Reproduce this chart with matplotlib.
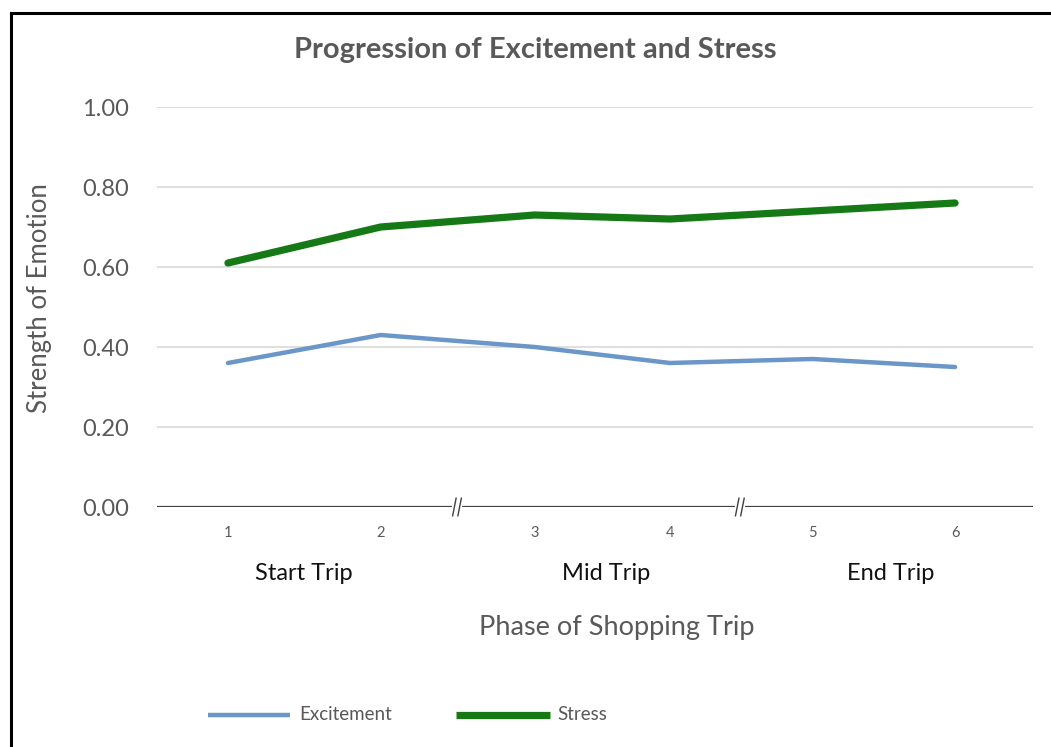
import matplotlib
matplotlib.use("Agg")
import matplotlib.pyplot as plt
from matplotlib.lines import Line2D

plt.rcParams['font.family'] = ['Lato', 'DejaVu Sans']

# Data
phases = ["1", "2", "3", "4", "5", "6"]
excitement = [0.36, 0.43, 0.40, 0.36, 0.37, 0.35]
stress = [0.61, 0.70, 0.73, 0.72, 0.74, 0.76]
stage_labels = ["Start Trip", "Mid Trip", "End Trip"]
y_ticks = [0.0, 0.2, 0.4, 0.6, 0.8, 1.0]
series_names = ["Excitement", "Stress"]

# Layout: horizontal placement of each phase (broken axis between stages)
phase_x = [1.0, 2.05, 3.11, 4.04, 5.02, 6.0]
break_x = [2.575, 4.52]
stage_x = [1.52, 3.60, 5.56]

W, H = 1051, 747
fig = plt.figure(figsize=(W / 100, H / 100), dpi=100)
fig.patch.set_facecolor("white")

ax = fig.add_axes([157 / W, (H - 507) / H, 876 / W, 400 / H])
ax.set_xlim(0.512, 6.536)
ax.set_ylim(0, 1.0)

grey = "#595959"
exc_color, str_color = "#6a96c8", "#157a15"
exc_lw, str_lw = 3.2, 5.2

for yv in y_ticks[1:]:
    ax.axhline(yv, color="#d9d9d9", lw=1.2, zorder=1)
ax.axhline(0, color="#404040", lw=1.6, zorder=2)

for s in ax.spines.values():
    s.set_visible(False)

ax.plot(phase_x, excitement, color=exc_color, lw=exc_lw, solid_capstyle="round",
        solid_joinstyle="round", zorder=3)
ax.plot(phase_x, stress, color=str_color, lw=str_lw, solid_capstyle="round",
        solid_joinstyle="round", zorder=4)

# axis break marks
for bx in break_x:
    ax.plot([bx - 0.02, bx + 0.02], [0, 0], color="white", lw=3, zorder=5,
            clip_on=False)
    for dx in (-0.018, 0.018):
        ax.plot([bx + dx - 0.012, bx + dx + 0.012], [-0.022, 0.022],
                color="#404040", lw=1.0, zorder=6, clip_on=False)

ax.set_yticks(y_ticks)
ax.set_yticklabels([f"{v:.2f}" for v in y_ticks], fontsize=17, color=grey)
ax.tick_params(axis="y", length=0, pad=20)
ax.set_xticks(phase_x)
ax.set_xticklabels(phases, fontsize=10.5, color=grey)
ax.tick_params(axis="x", length=0, pad=14)

for sx, lab in zip(stage_x, stage_labels):
    ax.text(sx, -0.165, lab, ha="center", va="center", fontsize=17,
            color="#111111", transform=ax.transData, clip_on=False)

fig.text(617 / W, 1 - 628 / H, "Phase of Shopping Trip", ha="center",
         va="center", fontsize=19.5, color=grey)
fig.text(40 / W, 1 - 298 / H, "Strength of Emotion", ha="center",
         va="center", rotation=90, fontsize=18.5, color=grey)
fig.text(535 / W, 1 - 50 / H, "Progression of Excitement and Stress",
         ha="center", va="center", fontsize=21, fontweight="bold", color=grey)

# legend below the plot
legend_items = [
    (series_names[0], exc_color, exc_lw, 208, 290, 299),
    (series_names[1], str_color, str_lw, 456, 550, 557),
]
ly = 1 - 715 / H
for name, col, lw, x0, x1, tx in legend_items:
    fig.add_artist(Line2D([x0 / W, x1 / W], [ly, ly], color=col, lw=lw,
                          solid_capstyle="butt", transform=fig.transFigure))
    fig.text(tx / W, ly, name, ha="left", va="center", fontsize=13.5,
             color=grey)

# outer frame (top and left edges)
fig.add_artist(Line2D([11 / W, 11 / W], [0, 1 - 13 / H], color="black",
                      lw=2.2, transform=fig.transFigure))
fig.add_artist(Line2D([11 / W, 1], [1 - 13 / H, 1 - 13 / H], color="black",
                      lw=2.2, transform=fig.transFigure))

fig.savefig("out.png", dpi=100, facecolor="white")
